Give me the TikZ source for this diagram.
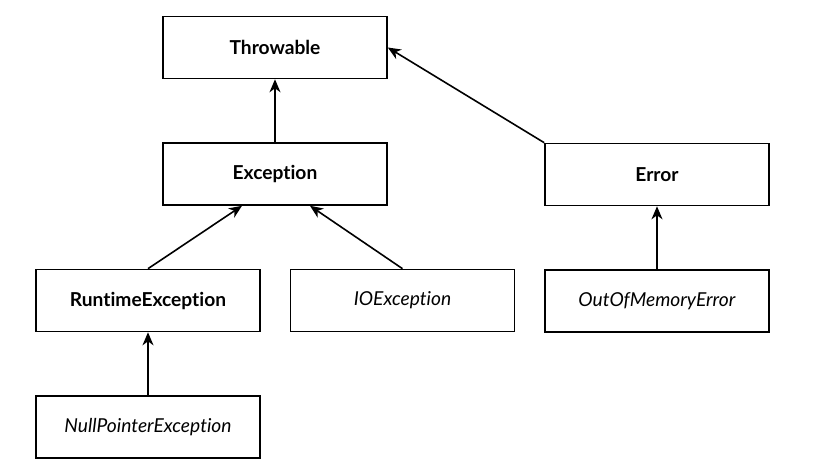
\documentclass[tikz,border=0pt]{standalone}
\usepackage{fontspec}
\setmainfont[Ligatures={NoCommon}]{Lato}
\usetikzlibrary{arrows.meta}
\usetikzlibrary{positioning}

\tikzset{
	classbox/.style={draw, line width=0.8pt, minimum width=112pt, minimum height=31pt, inner sep=0pt, font=\fontsize{9.6}{11}\selectfont},
	inherit/.style={-{Stealth[length=6.5pt, width=5.5pt, inset=2pt]}, line width=0.8pt}
}

\begin{document}
\begin{tikzpicture}[x=0.5pt, y=-0.5pt]
				\useasboundingbox (0,0) rectangle (836,470);
				% draw classes
				\node[classbox] (thr) at (275,47.5) {\textbf{Throwable}};
				\node[classbox] (exc) at (275,174) {\textbf{Exception}};
				\node[classbox] (err) at (657,174.5) {\textbf{Error}};
				\node[classbox] (rte) at (148,300.5) {\textbf{RuntimeException}};
				\node[classbox] (ioe) at (402.5,300.5) {\textit{IOException}};
				\node[classbox] (oom) at (657,301) {\textit{OutOfMemoryError}};
				\node[classbox] (npe) at (148,427) {\textit{NullPointerException}};
				
				% draw arrows
				\draw[inherit] (exc.north) -- (thr.south);
				\draw[inherit] (err.north west) -- (thr.east);
				\draw[inherit] (rte.north) -- ([xshift=-16.5pt]exc.south);
				\draw[inherit] (ioe.north) -- ([xshift=17.5pt]exc.south);
				\draw[inherit] (oom.north) -- (err.south);
				\draw[inherit] (npe.north) -- (rte.south);
			\end{tikzpicture}
\end{document}
